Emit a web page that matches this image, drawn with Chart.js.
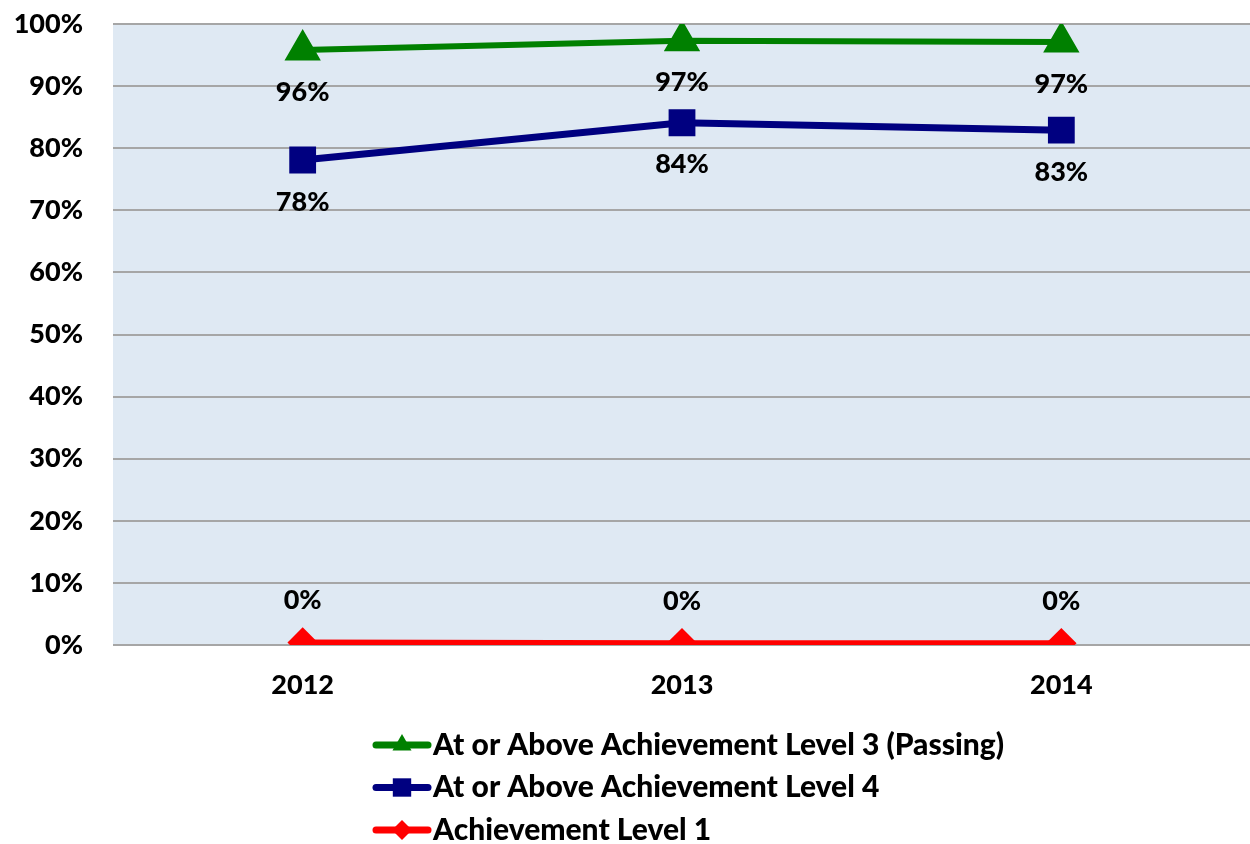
<!DOCTYPE html>
<html>
<head>
<meta charset="utf-8">
<script src="https://cdn.jsdelivr.net/npm/chart.js@4.4.1/dist/chart.umd.min.js"></script>
<style>
html,body{margin:0;padding:0;background:#fff;overflow:hidden;}
#wrap{width:1250px;height:844px;position:relative;overflow:hidden;}
#c{display:block;}
</style>
</head>
<body>
<div id="wrap"><canvas id="c" width="1272" height="844"></canvas></div>
<script>
const years = ['2012', '2013', '2014'];
const level3Plus = [95.8, 97.3, 97.1];
const level4Plus = [78.1, 84.1, 82.9];
const level1 = [0.4, 0.3, 0.3];
const seriesNames = ['At or Above Achievement Level 3 (Passing)', 'At or Above Achievement Level 4', 'Achievement Level 1'];
const yTicks = [0, 10, 20, 30, 40, 50, 60, 70, 80, 90, 100];

const FONT = 'Lato';

const bgPlugin = {
  id: 'bg',
  beforeDraw(chart) {
    const a = chart.chartArea, ctx = chart.ctx;
    ctx.save();
    ctx.fillStyle = '#dfe9f3';
    ctx.fillRect(a.left, a.top, a.right - a.left, a.bottom - a.top);
    ctx.restore();
  }
};

const labelOffsets = [42, 42, -42];
const labelPlugin = {
  id: 'dlabels',
  afterDatasetsDraw(chart) {
    const ctx = chart.ctx;
    ctx.save();
    ctx.font = '900 27px ' + FONT;
    ctx.fillStyle = '#000';
    ctx.textAlign = 'center';
    ctx.textBaseline = 'middle';
    chart.data.datasets.forEach((ds, i) => {
      const meta = chart.getDatasetMeta(i);
      meta.data.forEach((pt, j) => {
        ctx.fillText(Math.round(ds.data[j]) + '%', pt.x, pt.y + labelOffsets[i]);
      });
    });
    ctx.restore();
  }
};

const legendPlugin = {
  id: 'vlegend',
  afterDraw(chart) {
    const ctx = chart.ctx;
    ctx.save();
    chart.data.datasets.forEach((ds, i) => {
      const y = 745 + i * 42.5;
      ctx.strokeStyle = ds.borderColor;
      ctx.lineWidth = 7;
      ctx.lineCap = 'round';
      ctx.beginPath();
      ctx.moveTo(376, y);
      ctx.lineTo(428, y);
      ctx.stroke();
      ctx.fillStyle = ds.borderColor;
      ctx.strokeStyle = ds.borderColor;
      Chart.helpers.drawPoint(ctx, {pointStyle: ds.pointStyle, radius: ds.legendRadius, rotation: 0, borderWidth: 0}, 402, y);
      ctx.fillStyle = '#000';
      ctx.font = '900 30px ' + FONT;
      ctx.textAlign = 'left';
      ctx.textBaseline = 'middle';
      ctx.fillText(seriesNames[i], 433, y);
    });
    ctx.restore();
  }
};

new Chart(document.getElementById('c'), {
  type: 'line',
  data: {
    labels: years,
    datasets: [
      {label: seriesNames[0], data: level3Plus, borderColor: '#008000', backgroundColor: '#008000',
       borderWidth: 6, pointStyle: 'triangle', pointRadius: 15, legendRadius: 11},
      {label: seriesNames[1], data: level4Plus, borderColor: '#000080', backgroundColor: '#000080',
       borderWidth: 7, pointStyle: 'rect', pointRadius: 14, legendRadius: 13},
      {label: seriesNames[2], data: level1, borderColor: '#ff0000', backgroundColor: '#ff0000',
       borderWidth: 6, pointStyle: 'rectRot', pointRadius: 11, legendRadius: 10}
    ]
  },
  options: {
    responsive: false,
    animation: false,
    events: [],
    layout: {padding: {top: 24, right: 0, left: 0, bottom: 140}},
    plugins: {legend: {display: false}, tooltip: {enabled: false}},
    elements: {line: {tension: 0}, point: {borderWidth: 0}},
    scales: {
      x: {
        offset: true,
        grid: {display: true, drawOnChartArea: false, drawTicks: true, tickLength: 24, tickColor: 'rgba(0,0,0,0)'},
        border: {display: false},
        ticks: {color: '#000', font: {family: FONT, weight: '900', size: 27}, padding: 0},
        afterFit(s) { s.height = 59; }
      },
      y: {
        min: 0, max: 100,
        afterBuildTicks(s) { s.ticks = yTicks.map(v => ({value: v})); },
        grid: {color: '#a6a6a6', lineWidth: 2, drawTicks: true, tickLength: 30, tickColor: 'rgba(0,0,0,0)'},
        border: {display: false},
        ticks: {color: '#000', font: {family: FONT, weight: '900', size: 27}, padding: 0,
                callback: v => v + '%'},
        afterFit(s) { s.width = 113; }
      }
    }
  },
  plugins: [bgPlugin, labelPlugin, legendPlugin]
});
</script>
</body>
</html>
